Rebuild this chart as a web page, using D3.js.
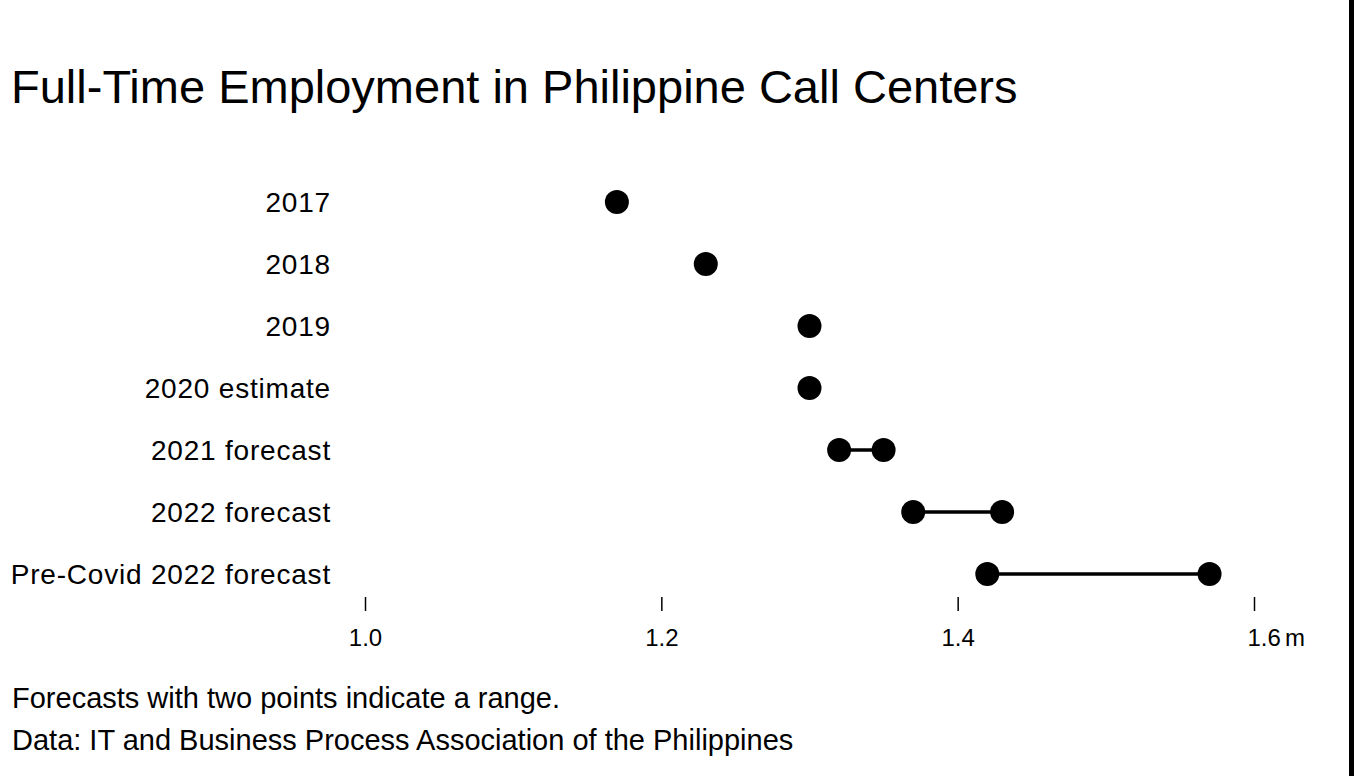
<!DOCTYPE html>
<html>
<head>
<meta charset="utf-8">
<script src="https://cdn.jsdelivr.net/npm/d3@7"></script>
<style>
  body { margin: 0; background: #fff; }
  svg text { font-family: "Liberation Sans", Arial, sans-serif; fill: #000; }
</style>
</head>
<body>
<div id="chart"></div>
<script>
// rows, top to bottom
var categories = ["2017", "2018", "2019", "2020 estimate", "2021 forecast", "2022 forecast", "Pre-Covid 2022 forecast"];
// millions; low end and high end (same value when there is only one point)
var lowValues = [1.17, 1.23, 1.30, 1.30, 1.32, 1.37, 1.42];
var highValues = [1.17, 1.23, 1.30, 1.30, 1.35, 1.43, 1.57];
var tickValues = [1.0, 1.2, 1.4, 1.6];
var tickLabels = ["1.0", "1.2", "1.4", "1.6"];

var width = 1354, height = 776;

var svg = d3.select("#chart")
            .append("svg")
            .attr("width", width)
            .attr("height", height);

// title
svg.append("text")
   .attr("x", 11)
   .attr("y", 103)
   .style("font-size", "47px")
   .text("Full-Time Employment in Philippine Call Centers");

// scales
var xScale = d3.scaleLinear()
               .domain([1.0, 1.6])
               .range([365, 1254]);
var yScale = d3.scalePoint()
               .domain(categories)
               .range([202, 574]);

var rows = categories.map(function(c, i) {
  return {name: c, low: lowValues[i], high: highValues[i]};
});

// row labels
svg.selectAll(".rowLabel")
   .data(rows)
   .enter()
   .append("text")
   .attr("class", "rowLabel")
   .attr("x", 331)
   .attr("y", function(d) { return yScale(d.name); })
   .attr("dy", "0.35em")
   .style("text-anchor", "end")
   .style("font-size", "28px")
   .style("letter-spacing", "0.8px")
   .text(function(d) { return d.name; });

// range lines
svg.selectAll(".range")
   .data(rows.filter(function(d) { return d.high > d.low; }))
   .enter()
   .append("line")
   .attr("class", "range")
   .attr("x1", function(d) { return xScale(d.low); })
   .attr("x2", function(d) { return xScale(d.high); })
   .attr("y1", function(d) { return yScale(d.name); })
   .attr("y2", function(d) { return yScale(d.name); })
   .style("stroke", "#000")
   .style("stroke-width", 3.5);

// dots
var points = [];
rows.forEach(function(d) {
  points.push({name: d.name, value: d.low});
  if (d.high > d.low) points.push({name: d.name, value: d.high});
});

svg.selectAll(".dot")
   .data(points)
   .enter()
   .append("circle")
   .attr("class", "dot")
   .attr("cx", function(d) { return xScale(d.value); })
   .attr("cy", function(d) { return yScale(d.name); })
   .attr("r", 12)
   .style("fill", "#000");

// x axis
var xAxis = d3.axisBottom(xScale)
              .tickValues(tickValues)
              .tickSize(14)
              .tickPadding(18)
              .tickFormat(function(d, i) { return tickLabels[i]; });

var axisG = svg.append("g")
   .attr("class", "x axis")
   .attr("transform", "translate(0,597)")
   .call(xAxis);

axisG.select(".domain").remove();
axisG.selectAll(".tick line")
     .style("stroke", "#000")
     .style("stroke-width", 1.5);
axisG.selectAll(".tick text")
     .style("font-size", "24px")
     .style("font-family", "Liberation Sans, Arial, sans-serif")
     .attr("fill", "#000");

// unit on the last tick
var lastTick = axisG.selectAll(".tick text").filter(function(d, i) { return i === tickValues.length - 1; });
lastTick.append("tspan").attr("dx", 4).text("m");
lastTick.style("text-anchor", "start").attr("x", -7);

// footer notes
svg.append("text")
   .attr("x", 12)
   .attr("y", 708)
   .style("font-size", "29px")
   .text("Forecasts with two points indicate a range.");
svg.append("text")
   .attr("x", 12)
   .attr("y", 750)
   .style("font-size", "29px")
   .text("Data: IT and Business Process Association of the Philippines");

// right edge bar
svg.append("rect")
   .attr("x", 1349)
   .attr("y", 0)
   .attr("width", 5)
   .attr("height", height)
   .style("fill", "#000");
</script>
</body>
</html>
